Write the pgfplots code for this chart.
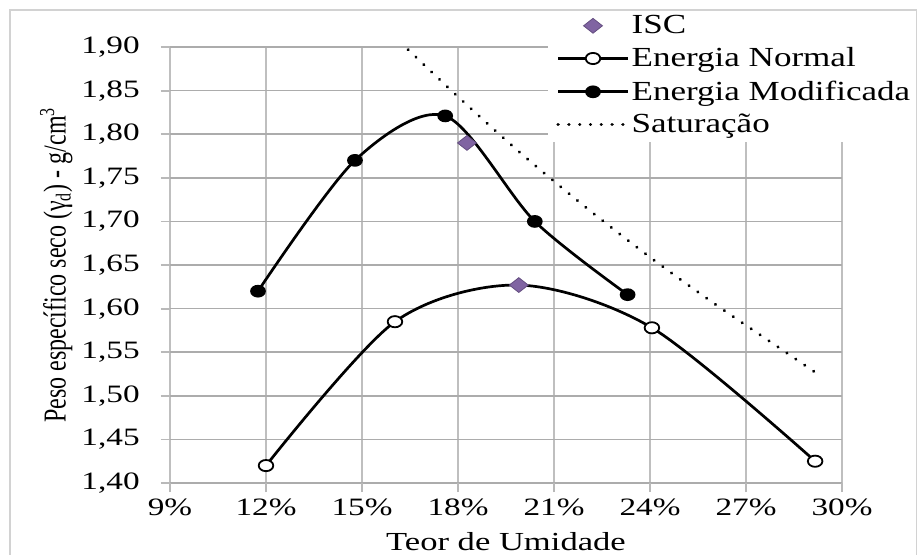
\documentclass[border=0pt]{standalone}
\usepackage{pgfplots}
\pgfplotsset{compat=1.18}
\usepackage{graphicx}
\usepackage{fontspec}
\setmainfont{Liberation Serif}
\definecolor{iscpurple}{RGB}{128,100,162}
\definecolor{iscedge}{RGB}{100,78,128}
\begin{document}
\begin{tikzpicture}
\path[use as bounding box, fill=white] (-85pt,-35.5pt) rectangle (374.5pt,241.5pt);
\begin{axis}[
  at={(0pt,0pt)}, anchor=south west,
  scale only axis, width=336pt, height=218pt,
  xmin=9, xmax=30, ymin=1.40, ymax=1.90,
  xtick={9,12,15,18,21,24,27,30},
  xticklabels={9\%,12\%,15\%,18\%,21\%,24\%,27\%,30\%},
  ytick={1.40,1.45,1.50,1.55,1.60,1.65,1.70,1.75,1.80,1.85,1.90},
  y tick label style={/pgf/number format/fixed, /pgf/number format/fixed zerofill, /pgf/number format/precision=2, /pgf/number format/use comma, /pgf/number format/assume math mode=true, xshift=-4.5pt},
  tick label style={font=\fontsize{12.5}{15}\selectfont, xscale=1.33, text=black},
  grid=major,
  major x grid style={draw=gray!50, line width=1.1pt},
  major y grid style={draw=gray!65, line width=0.8pt},
  axis line style={draw=none},
  tick align=outside, tick pos=left, major tick length=4.5pt,
  tick style={draw=gray!55, line width=0.9pt},
  xlabel={\scalebox{1.33}[1]{Teor de Umidade}},
  xlabel style={at={(axis description cs:0.5,-0.113)}, anchor=north, inner sep=0pt, font=\fontsize{13}{15}\selectfont},
  ylabel={\scalebox{1}[1.33]{Peso específico seco (γ\textsubscript{d}) - g/cm\textsuperscript{3}}},
  ylabel style={at={(axis description cs:-0.1443,0.5)}, anchor=south, inner sep=0pt, font=\fontsize{12}{14}\selectfont},
  legend style={at={(0.5625,0.7821)}, anchor=south west, draw=none, fill=white, inner xsep=4pt, inner ysep=3pt, row sep=5.5pt, font=\fontsize{13.8}{16}\selectfont, cells={anchor=west}, nodes={inner xsep=1pt, inner ysep=0pt}},
  legend image code/.code={\draw[#1, mark indices={2}] plot coordinates {(0pt,0pt) (17.5pt,0pt) (35pt,0pt)};},
]
\addlegendimage{only marks, mark=diamond*, mark size=3.7pt, mark options={fill=iscpurple, draw=iscedge, line width=0.4pt, xscale=1.7}}
\addlegendentry{\scalebox{1.27}[1]{ISC}}

\addplot[black, line width=1.35pt, smooth, mark=*, mark size=2.8pt, mark options={fill=white, line width=0.9pt, xscale=1.3}, mark indices={1,2,4,5}]
  coordinates {(12.0,1.420) (16.03,1.585) (19.9,1.627) (24.06,1.578) (29.16,1.425)};
\addlegendentry{\scalebox{1.27}[1]{Energia Normal}}

\addplot[black, line width=1.35pt, smooth, mark=*, mark size=2.5pt, mark options={fill=black, xscale=1.3}]
  coordinates {(11.75,1.620) (14.78,1.770) (17.6,1.821) (20.4,1.700) (23.3,1.616)};
\addlegendentry{\scalebox{1.27}[1]{Energia Modificada}}

\addplot[black, line width=1.6pt, smooth, line cap=round, dash pattern=on 0.1pt off 5.3pt]
  coordinates {(16.44,1.897) (18,1.843) (20,1.777) (22,1.716) (24,1.659) (26,1.606) (28,1.556) (29.16,1.527)};
\addlegendentry{\scalebox{1.27}[1]{Saturação}}

\addplot[only marks, mark=diamond*, mark size=3.7pt, mark options={fill=iscpurple, draw=iscedge, line width=0.4pt, xscale=1.7}, forget plot]
  coordinates {(18.28,1.790) (19.9,1.627)};
\end{axis}
\draw[gray!35, line width=0.9pt] (-80pt,-40pt) -- (-80pt,236.5pt) -- (373.2pt,236.5pt) -- (373.2pt,-40pt);
\end{tikzpicture}
\end{document}
